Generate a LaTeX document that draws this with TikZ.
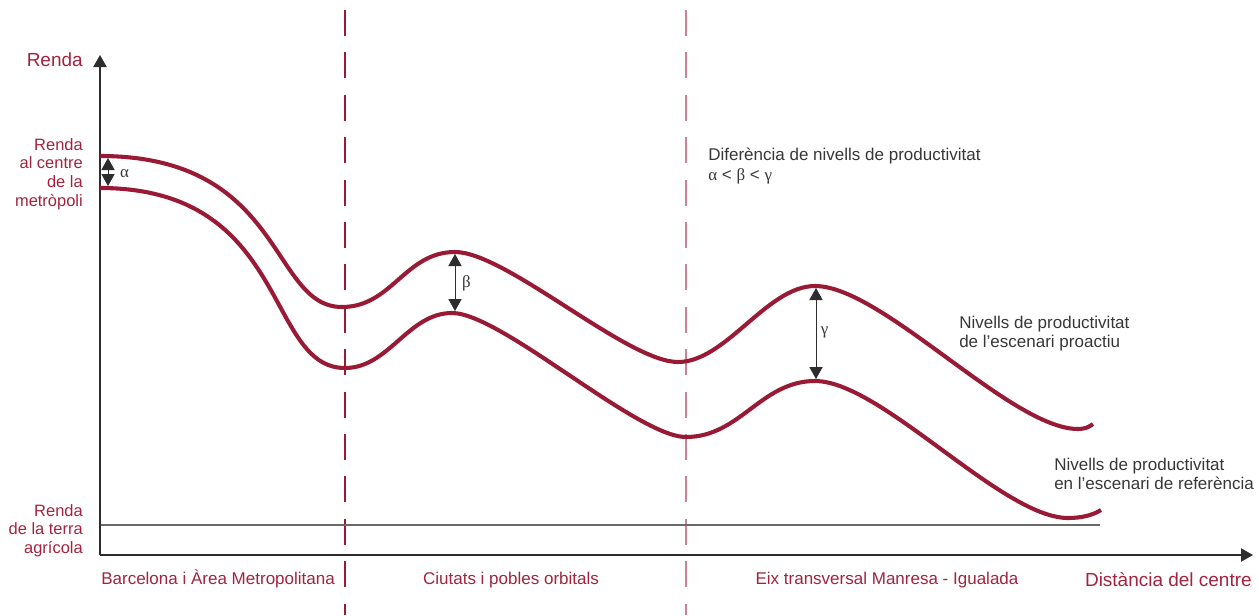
\documentclass[tikz,border=0pt]{standalone}
\usepackage{fontspec}
\setmainfont{Liberation Sans}
\newfontfamily\greekfont{Liberation Serif}
\usetikzlibrary{arrows.meta}

\definecolor{rendared}{RGB}{163,35,62}
\definecolor{curvered}{RGB}{152,26,52}
\definecolor{dashpink}{RGB}{208,128,148}
\definecolor{axisgrey}{RGB}{45,45,45}
\definecolor{farmgrey}{RGB}{105,105,105}
\definecolor{labelgrey}{RGB}{55,55,55}

\begin{document}
\begin{tikzpicture}[x=0.25mm, y=-0.25mm,
  axis/.style={draw=axisgrey, line width=1.1pt, -{Triangle[length=3mm, width=3.3mm]}},
  level/.style={draw=curvered, line width=2.9pt},
  gap/.style={draw=axisgrey, line width=0.7pt,
    {Triangle[length=3mm, width=3.3mm]}-{Triangle[length=3mm, width=3.3mm]}},
  zone/.style={line width=1.2pt, dash pattern=on 6.5mm off 4.1mm},
  redlabel/.style={text=rendared, inner sep=0pt, align=right, font=\fontsize{11.7}{13.3}\selectfont},
  zonelabel/.style={text=rendared, inner sep=0pt, font=\fontsize{12.1}{14}\selectfont},
  axislabel/.style={text=rendared, inner sep=0pt, font=\fontsize{13.5}{16}\selectfont},
  note/.style={text=labelgrey, inner sep=0pt, align=left, font=\fontsize{12.1}{13.8}\selectfont},
  greek/.style={text=labelgrey, inner sep=0pt, font=\greekfont\fontsize{12}{14}\selectfont}]
  \useasboundingbox (0,0) rectangle (1259,615);

  % zone borders
  \coordinate (zoneAtop) at (345,10);
  \coordinate (zoneAbot) at (345,615);
  \coordinate (zoneBtop) at (686,10);
  \coordinate (zoneBbot) at (686,615);
  \draw[zone, draw=curvered] (zoneAtop) -- (zoneAbot);
  \draw[zone, draw=dashpink] (zoneBtop) -- (zoneBbot);

  % axes and farm rent
  \coordinate (origin) at (100,555);
  \coordinate (yend) at (100,55);
  \coordinate (xend) at (1253,555);
  \coordinate (farmStart) at (100,525);
  \coordinate (farmEnd) at (1100,525);
  \draw[draw=farmgrey, line width=1.1pt] (farmStart) -- (farmEnd);
  \draw[axis] (origin) -- (yend);
  \draw[axis] (origin) -- (xend);

  % productivity levels
  \draw[level] (100,156) .. controls (285,156) and (270,307) .. (342,307)
    .. controls (392,307) and (405,252) .. (455,252)
    .. controls (506,252) and (627,362) .. (678,362)
    .. controls (726,362) and (767,286) .. (815,286)
    .. controls (882,286) and (1011,429) .. (1078,429)
    .. controls (1085,429) and (1089,427) .. (1093,424);
  \draw[level] (100,188) .. controls (290,188) and (265,368) .. (345,368)
    .. controls (389,368) and (408,313) .. (452,313)
    .. controls (501,313) and (637,437) .. (686,437)
    .. controls (740,437) and (761,381) .. (815,381)
    .. controls (881,381) and (1002,518) .. (1068,518)
    .. controls (1082,518) and (1093,515) .. (1101,510);

  % gaps
  \coordinate (alphaTop) at (108,158);
  \coordinate (alphaBot) at (108,186);
  \coordinate (betaTop) at (455,254);
  \coordinate (betaBot) at (455,311);
  \coordinate (gammaTop) at (816,288);
  \coordinate (gammaBot) at (816,379);
  \draw[gap] (alphaTop) -- (alphaBot);
  \draw[gap] (betaTop) -- (betaBot);
  \draw[gap] (gammaTop) -- (gammaBot);
  \node[greek] (alphaLabel) at (124.5,173.5) {α};
  \node[greek] (betaLabel) at (466.5,283) {β};
  \node[greek] (gammaLabel) at (824.5,332) {γ};

  % axis labels
  \node[axislabel, anchor=base east] (rendaTitle) at (83,66) {Renda};
  \node[axislabel, anchor=base east] (distTitle) at (1252,586) {Distància del centre};
  \node[redlabel, anchor=north east] (rendaCentre) at (83,138) {Renda\\al centre\\de la\\metròpoli};
  \node[redlabel, anchor=north east] (rendaTerra) at (83,504) {Renda\\de la terra\\agrícola};

  % zones
  \node[zonelabel, anchor=base west] (zoneBcn) at (101,584) {Barcelona i Àrea Metropolitana};
  \node[zonelabel, anchor=base] (zoneOrbital) at (511,584) {Ciutats i pobles orbitals};
  \node[zonelabel, anchor=base] (zoneEix) at (887,584) {Eix transversal Manresa - Igualada};

  % notes
  \node[note, anchor=north west] (diffNote) at (708,148)
    {Diferència de nivells de productivitat\\{\greekfont α} < {\greekfont β} < {\greekfont γ}};
  \node[note, anchor=north west] (proactiuNote) at (959,315.6)
    {Nivells de productivitat\\de l’escenari proactiu};
  \node[note, anchor=north west] (referenciaNote) at (1054,457.6)
    {Nivells de productivitat\\en l’escenari de referència};
\end{tikzpicture}
\end{document}
